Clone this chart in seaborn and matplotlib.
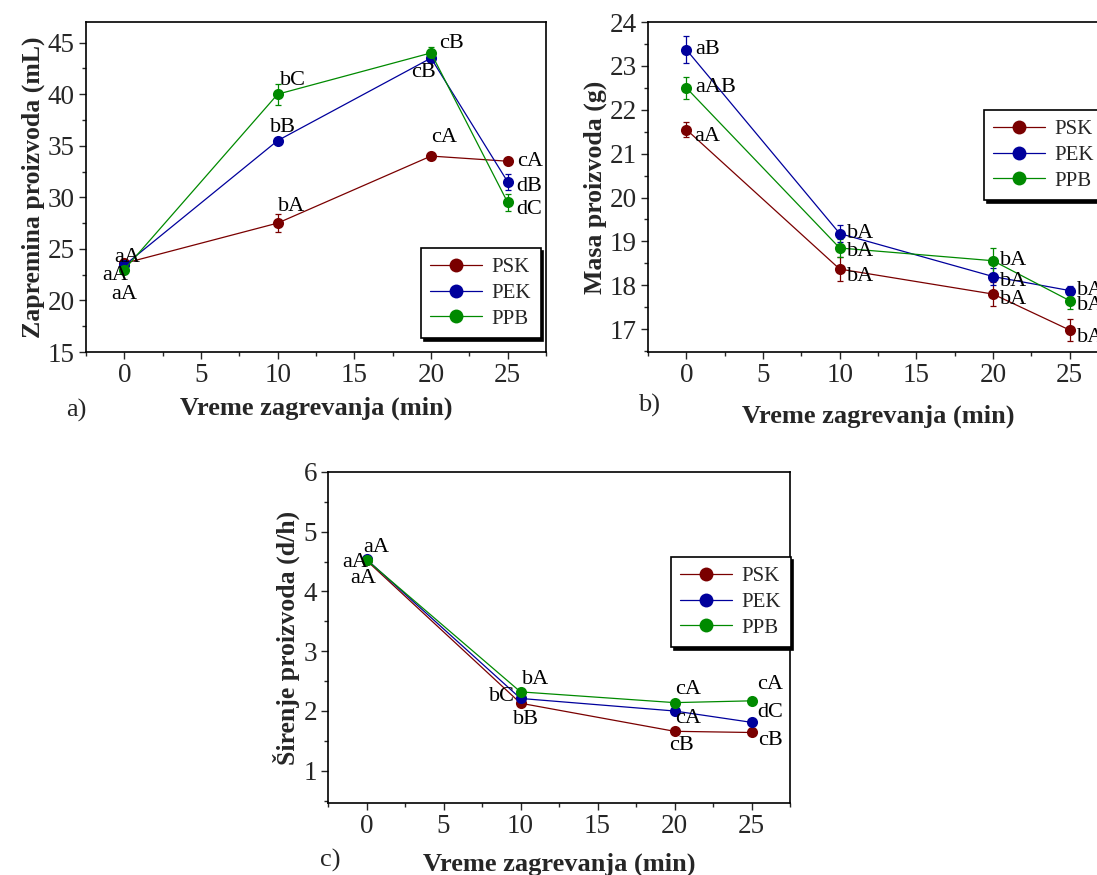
import numpy as np
import pandas as pd
import seaborn as sns
import matplotlib.pyplot as plt
from matplotlib.ticker import MultipleLocator

sns.set_style('ticks')
plt.rcParams['font.family'] = ['Liberation Serif', 'DejaVu Serif']

time = [0, 10, 20, 25]
samples = ['PSK', 'PEK', 'PPB']
colors = {'PSK': '#7a0000', 'PEK': '#00009c', 'PPB': '#008a00'}

# a) volume (mL)
vol = {'PSK': [23.6, 27.5, 34.0, 33.5],
       'PEK': [23.4, 35.5, 43.5, 31.5],
       'PPB': [23.0, 40.0, 44.0, 29.5]}
vol_err = {'PSK': [0.3, 0.9, 0.2, 0.2],
           'PEK': [0.3, 0.3, 0.4, 0.8],
           'PPB': [0.3, 1.0, 0.6, 0.8]}
vol_lab = {'PSK': ['aA', 'bA', 'cA', 'cA'],
           'PEK': ['aA', 'bB', 'cB', 'dB'],
           'PPB': ['aA', 'bC', 'cB', 'dC']}

# b) mass (g)
mass = {'PSK': [21.55, 18.37, 17.80, 16.98],
        'PEK': [23.37, 19.18, 18.20, 17.88],
        'PPB': [22.50, 18.85, 18.56, 17.65]}
mass_err = {'PSK': [0.18, 0.28, 0.28, 0.25],
            'PEK': [0.30, 0.20, 0.20, 0.10],
            'PPB': [0.25, 0.20, 0.28, 0.20]}
mass_lab = {'PSK': ['aA', 'bA', 'bA', 'bA'],
            'PEK': ['aB', 'bA', 'bA', 'bA'],
            'PPB': ['aAB', 'bA', 'bA', 'bA']}

# c) spread (d/h)
spread = {'PSK': [4.52, 2.13, 1.66, 1.64],
          'PEK': [4.54, 2.21, 2.00, 1.81],
          'PPB': [4.53, 2.32, 2.14, 2.17]}
spread_err = {'PSK': [0.03, 0.03, 0.03, 0.03],
              'PEK': [0.03, 0.03, 0.03, 0.03],
              'PPB': [0.03, 0.03, 0.03, 0.03]}
spread_lab = {'PSK': ['aA', 'bB', 'cB', 'cB'],
              'PEK': ['aA', 'bC', 'cA', 'dC'],
              'PPB': ['aA', 'bA', 'cA', 'cA']}

# label offsets in pixels (dx, dy)
off_a = {'PSK': [(3, 6), (14, 17), (13, 19), (22, 0)],
         'PEK': [(-9, -10), (5, 13), (-8, -14), (22, -5)],
         'PPB': [(0, -25), (15, 14), (21, 9), (22, -7)]}
off_b = {'PSK': [(21, -7), (21, -7), (21, -5), (21, -7)],
         'PEK': [(21, 0), (21, 0), (21, -5), (21, 0)],
         'PPB': [(29, 0), (21, -4), (21, 0), (21, -5)]}
off_c = {'PSK': [(-3, -18), (5, -16), (7, -14), (19, -8)],
         'PEK': [(-11, -3), (-19, 2), (14, -8), (19, 10)],
         'PPB': [(10, 12), (15, 12), (14, 13), (19, 16)]}


def panel(ax, data, err, labs, offs, ylim, ymajor, yminor, ylabel, legpos, xpad):
    df = pd.DataFrame([(s, t, v) for s in samples for t, v in zip(time, data[s])],
                      columns=['sample', 't', 'v'])
    sns.lineplot(data=df, x='t', y='v', hue='sample', palette=colors, marker='o',
                 markersize=8, markeredgewidth=0, linewidth=0.9, ax=ax, zorder=3)
    for s in samples:
        ax.errorbar(time, data[s], yerr=err[s], fmt='none', ecolor=colors[s],
                    elinewidth=0.9, capsize=2.5, capthick=0.9, zorder=2)
        for t, v, lab, (dx, dy) in zip(time, data[s], labs[s], offs[s]):
            ax.annotate(lab, (t, v), xytext=(dx, dy), textcoords='offset pixels',
                        ha='center', va='center', fontsize=16, color='black',
                        annotation_clip=False, zorder=5)
    ax.set_xlim(-2.5, 27.5)
    ax.set_ylim(*ylim)
    ax.set_xticks([0, 5, 10, 15, 20, 25])
    ax.xaxis.set_minor_locator(MultipleLocator(2.5))
    ax.yaxis.set_major_locator(MultipleLocator(ymajor))
    ax.yaxis.set_minor_locator(MultipleLocator(yminor))
    ax.tick_params(which='major', direction='out', length=5, width=1, labelsize=19.5,
                   top=False, right=False, pad=3)
    ax.tick_params(which='minor', direction='out', length=3, width=1,
                   top=False, right=False)
    for sp in ax.spines.values():
        sp.set_visible(True)
        sp.set_linewidth(1.2)
        sp.set_color('black')
    ax.set_xlabel('Vreme zagrevanja (min)', fontsize=19, fontweight='bold', labelpad=xpad)
    ax.set_ylabel(ylabel, fontsize=18.5, fontweight='bold', labelpad=2)
    leg = ax.legend(loc='upper left', bbox_to_anchor=legpos, fontsize=15,
                    frameon=True, fancybox=False, edgecolor='black', framealpha=1,
                    shadow={'color': 'black', 'alpha': 1}, borderpad=0.45,
                    handlelength=2.5, handletextpad=0.45, labelspacing=0.3,
                    borderaxespad=0, title=None)
    leg.get_frame().set_linewidth(1.2)
    for h in leg.legend_handles:
        h.set_markersize(10)


fig = plt.figure(figsize=(10.97, 8.75), dpi=100)
ax_a = fig.add_axes([86 / 1097, 1 - 352 / 875, 460 / 1097, 330 / 875])
ax_b = fig.add_axes([648 / 1097, 1 - 352 / 875, 460 / 1097, 330 / 875])
ax_c = fig.add_axes([328 / 1097, 1 - 803 / 875, 462 / 1097, 331 / 875])

panel(ax_a, vol, vol_err, vol_lab, off_a, (15, 47), 5, 2.5,
      'Zapremina proizvoda (mL)', ((421 - 86) / 460, (352 - 248) / 330), 6)
panel(ax_b, mass, mass_err, mass_lab, off_b, (16.48, 24), 1, 0.5,
      'Masa proizvoda (g)', ((984 - 648) / 460, (352 - 110) / 330), 12)
panel(ax_c, spread, spread_err, spread_lab, off_c, (0.46, 6), 1, 0.5,
      'Širenje proizvoda (d/h)', ((671 - 328) / 462, (803 - 557) / 331), 10)

fig.text(66 / 1097, 1 - 410 / 875, 'a)', fontsize=19, va='center')
fig.text(638 / 1097, 1 - 405 / 875, 'b)', fontsize=19, va='center')
fig.text(320 / 1097, 1 - 860 / 875, 'c)', fontsize=19, va='center')

fig.savefig('out.png', dpi=100)
